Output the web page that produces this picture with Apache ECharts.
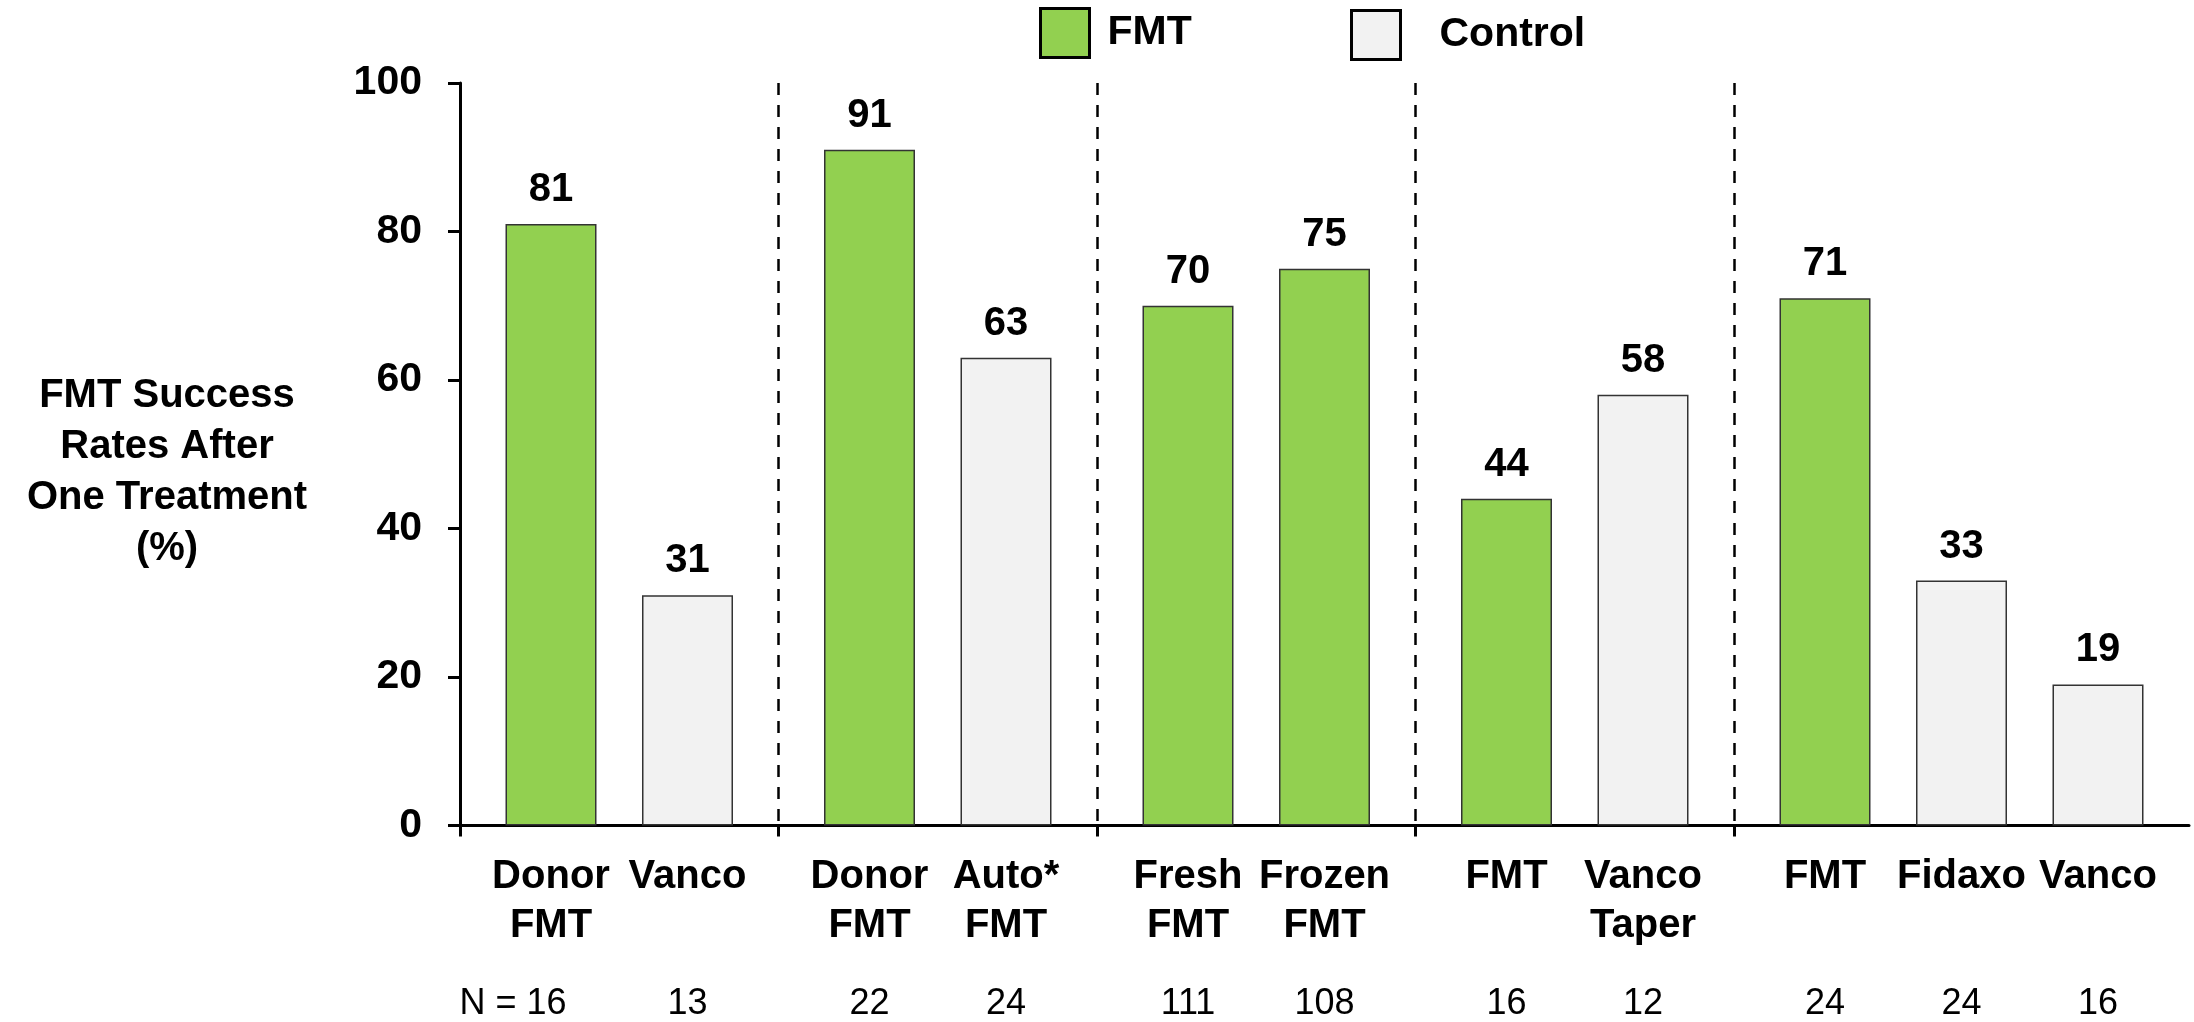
<!DOCTYPE html>
<html>
<head>
<meta charset="utf-8">
<script src="https://cdn.jsdelivr.net/npm/echarts@6/dist/echarts.min.js"></script>
<style>
  html, body { margin: 0; padding: 0; background: #fff; }
  #chart { width: 2194px; height: 1022px; }
</style>
</head>
<body>
<div id="chart"></div>
<script>
// data
const labels = ['Donor\nFMT', 'Vanco', 'Donor\nFMT', 'Auto*\nFMT', 'Fresh\nFMT', 'Frozen\nFMT', 'FMT', 'Vanco\nTaper', 'FMT', 'Fidaxo', 'Vanco']
const rates = [81, 31, 91, 63, 70, 75, 44, 58, 71, 33, 19]
const nCounts = [16, 13, 22, 24, 111, 108, 16, 12, 24, 24, 16]
const kinds = ['FMT', 'Control', 'FMT', 'Control', 'FMT', 'FMT', 'FMT', 'Control', 'FMT', 'Control', 'Control']
const yTicks = [0, 20, 40, 60, 80, 100]

// layout: slot on the category axis for each bar, and the group dividers
const slotCount = 39
const barSlots = [2, 5, 9, 12, 16, 19, 23, 26, 30, 33, 36]
const dividerSlots = [7, 14, 21, 28]

const FONT = 'Liberation Sans, Arial, sans-serif'
const GREEN = '#92d050'
const GREY = '#f2f2f2'

const slots = []
for (let i = 0; i < slotCount; i++) slots.push(String(i))

const seriesData = (kind) => {
    const arr = slots.map(() => '-')
    barSlots.forEach((s, i) => {
        if (kinds[i] == kind) arr[s] = rates[i]
    })
    return arr
}

const axisLabelText = (value, idx) => {
    const b = barSlots.indexOf(idx)
    if (b < 0) return ''
    const lines = labels[b].split('\n')
    if (lines.length < 2) lines.push(' ')
    const nStyle = b == 0 ? 'nf' : 'n'
    const nText = b == 0 ? 'N = ' + nCounts[b] : String(nCounts[b])
    return lines.map(l => '{b|' + l + '}').join('\n') + '\n{' + nStyle + '|' + nText + '}'
}

const barStyle = (color) => ({
    color: color,
    borderColor: '#333',
    borderWidth: 1.5
})

const barLabel = {
    show: true,
    position: 'top',
    distance: 14,
    color: '#000',
    fontFamily: FONT,
    fontWeight: 'bold',
    fontSize: 40
}

const legendBase = {
    top: 7,
    itemWidth: 49,
    itemHeight: 49,
    padding: 0,
    selectedMode: false,
    itemStyle: { borderColor: '#000', borderWidth: 3 },
    icon: 'rect'
}

const option = {
    animation: false,
    backgroundColor: '#fff',
    legend: [
        Object.assign({}, legendBase, {
            data: ['FMT'],
            left: 1039,
            textStyle: { color: '#000', fontFamily: FONT, fontWeight: 'bold', fontSize: 41, padding: [0, 0, 0, 13] }
        }),
        Object.assign({}, legendBase, {
            data: ['Control'],
            left: 1350,
            top: 9,
            textStyle: { color: '#000', fontFamily: FONT, fontWeight: 'bold', fontSize: 41, padding: [0, 0, 0, 34] }
        })
    ],
    grid: {
        left: 460,
        right: 5,
        top: 83,
        bottom: 194
    },
    graphic: [
        {
            type: 'text',
            x: 167,
            y: 472,
            style: {
                text: 'FMT Success\nRates After\nOne Treatment\n(%)',
                fill: '#000',
                fontFamily: FONT,
                fontWeight: 'bold',
                fontSize: 40,
                lineHeight: 51,
                align: 'center',
                verticalAlign: 'middle'
            }
        }
    ],
    xAxis: {
        type: 'category',
        data: slots,
        boundaryGap: false,
        axisLine: { show: true, lineStyle: { color: '#000', width: 3 } },
        axisTick: {
            show: true,
            length: 11,
            lineStyle: { color: '#000', width: 3 },
            interval: (idx) => idx == 0 || dividerSlots.indexOf(idx) >= 0
        },
        splitLine: {
            show: true,
            interval: (idx) => dividerSlots.indexOf(idx) >= 0,
            lineStyle: { color: '#000', width: 2.5, type: [12, 10] }
        },
        axisLabel: {
            interval: 0,
            margin: 27,
            color: '#000',
            formatter: axisLabelText,
            rich: {
                b: { fontFamily: FONT, fontWeight: 'bold', fontSize: 40, lineHeight: 49, color: '#000' },
                n: { fontFamily: FONT, fontSize: 36, lineHeight: 107, color: '#000' },
                nf: { fontFamily: FONT, fontSize: 36, lineHeight: 107, color: '#000', padding: [0, 76, 0, 0] }
            }
        }
    },
    yAxis: {
        type: 'value',
        min: yTicks[0],
        max: yTicks[yTicks.length - 1],
        interval: yTicks[1] - yTicks[0],
        axisLine: { show: true, lineStyle: { color: '#000', width: 3 } },
        axisTick: { show: true, length: 12, lineStyle: { color: '#000', width: 3 } },
        splitLine: { show: false },
        axisLabel: {
            margin: 38,
            color: '#000',
            fontFamily: FONT,
            fontWeight: 'bold',
            fontSize: 41
        }
    },
    series: [
        {
            name: 'FMT',
            type: 'bar',
            barWidth: 91,
            barGap: '-100%',
            data: seriesData('FMT'),
            itemStyle: barStyle(GREEN),
            label: barLabel
        },
        {
            name: 'Control',
            type: 'bar',
            barWidth: 91,
            barGap: '-100%',
            data: seriesData('Control'),
            itemStyle: barStyle(GREY),
            label: barLabel
        }
    ]
}

const myChart = echarts.init(document.getElementById('chart'))
myChart.setOption(option)
window.addEventListener('resize', () => {
    myChart.resize()
})
</script>
</body>
</html>
